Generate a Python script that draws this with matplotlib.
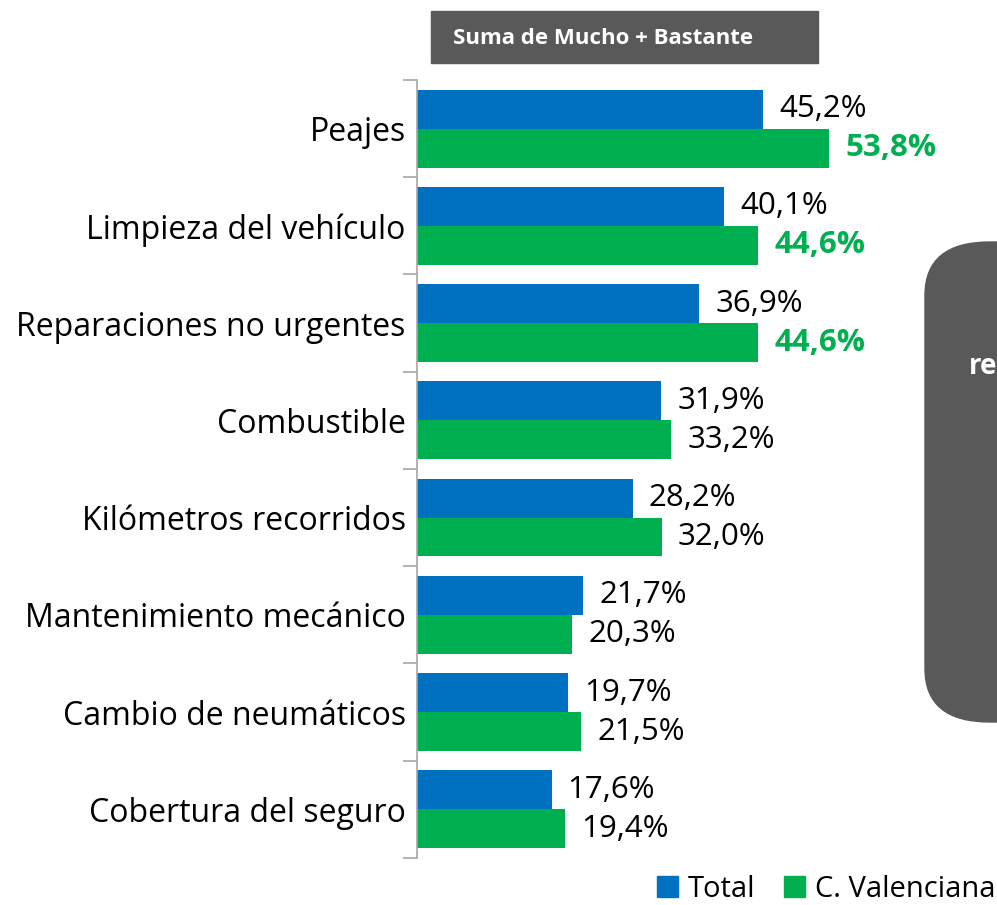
import matplotlib

matplotlib.use("Agg")
import matplotlib.pyplot as plt
import numpy as np
from matplotlib.patches import FancyBboxPatch, Patch, Rectangle

categories = [
    "Peajes",
    "Limpieza del vehículo",
    "Reparaciones no urgentes",
    "Combustible",
    "Kilómetros recorridos",
    "Mantenimiento mecánico",
    "Cambio de neumáticos",
    "Cobertura del seguro",
]
total = [45.2, 40.1, 36.9, 31.9, 28.2, 21.7, 19.7, 17.6]
valenciana = [53.8, 44.6, 44.6, 33.2, 32.0, 20.3, 21.5, 19.4]
# values shown in bold green in the reference
highlight = [True, True, True, False, False, False, False, False]

BLUE = "#0070C0"
GREEN = "#00B050"
GREY_BOX = "#595959"
FONT = "Open Sans"
FS = 22.5

plt.rcParams["font.family"] = [FONT, "DejaVu Sans"]

fig = plt.figure(figsize=(9.97, 9.05), dpi=100)
ax = fig.add_axes([0.418, 0.052, 0.461, 0.8596])

y = np.arange(len(categories))
h = 0.4
ax.barh(y - h / 2, total, height=h, color=BLUE, label="Total")
ax.barh(y + h / 2, valenciana, height=h, color=GREEN, label="C. Valenciana")


def fmt(v):
    return f"{v:.1f}%".replace(".", ",")


off = 2.1
for i in range(len(categories)):
    ax.text(total[i] + off, y[i] - h / 2, fmt(total[i]), va="center", ha="left",
            fontsize=FS, color="black")
    if highlight[i]:
        ax.text(valenciana[i] + off, y[i] + h / 2, fmt(valenciana[i]), va="center",
                ha="left", fontsize=FS, color=GREEN, fontweight="bold")
    else:
        ax.text(valenciana[i] + off, y[i] + h / 2, fmt(valenciana[i]), va="center",
                ha="left", fontsize=FS, color="black")

ax.set_xlim(0, 60)
ax.set_ylim(len(categories) - 0.5, -0.5)
ax.set_yticks(y)
ax.set_yticklabels(categories, fontsize=23)
ax.set_yticks(np.arange(len(categories) + 1) - 0.5, minor=True)
ax.tick_params(axis="y", which="major", length=0, pad=8)
ax.tick_params(axis="y", which="minor", length=10, color="#A6A6A6", width=1.2)
ax.set_xticks([])
for side in ["top", "right", "bottom"]:
    ax.spines[side].set_visible(False)
ax.spines["left"].set_color("#A6A6A6")
ax.spines["left"].set_linewidth(1.2)

# header box above the bars
fig.patches.append(Rectangle((431 / 997, 1 - 63 / 905), 387 / 997, 52 / 905,
                             transform=fig.transFigure, color=GREY_BOX, zorder=0))
fig.text(453 / 997, 1 - 38 / 905, "Suma de Mucho + Bastante", color="white",
         fontsize=16, fontweight="bold", va="center", ha="left")

# rounded box cut at the right edge
fig.patches.append(FancyBboxPatch((925 / 997, 1 - 722 / 905), 200 / 997, 480 / 905,
                                  boxstyle="round,pad=0,rounding_size=0.065",
                                  transform=fig.transFigure, color=GREY_BOX,
                                  zorder=0, mutation_aspect=905 / 997))
fig.text(969 / 997, 1 - 366 / 905, "re", color="white", fontsize=20,
         fontweight="bold", va="center", ha="left")

handles = [Patch(color=BLUE, label="Total"), Patch(color=GREEN, label="C. Valenciana")]
fig.legend(handles=handles, loc="lower right", bbox_to_anchor=(1.0, 0.0), ncol=2,
           frameon=False, fontsize=21, handlelength=0.7, handleheight=0.7,
           handletextpad=0.35, columnspacing=1.0, borderaxespad=0.0, borderpad=0.05)

fig.savefig("out.png", dpi=100)
